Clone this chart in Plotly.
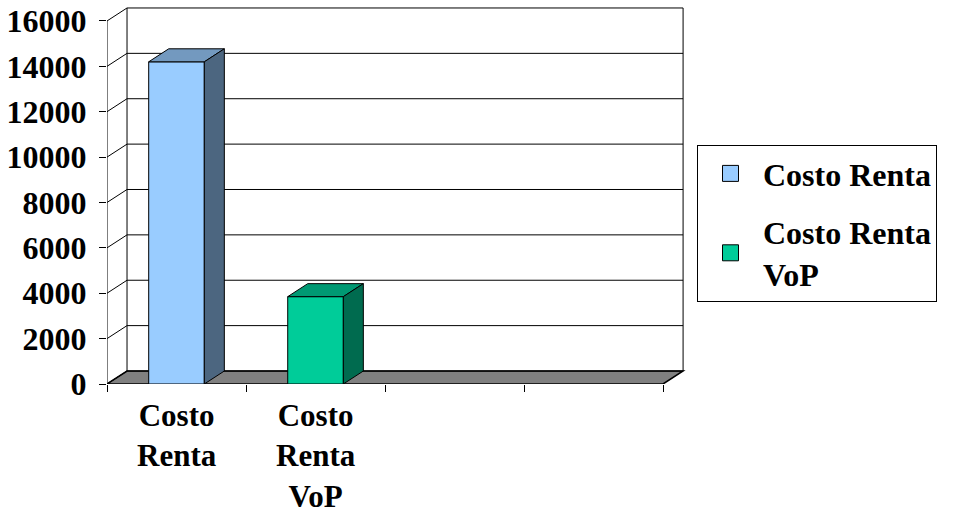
import plotly.graph_objects as go

# ── Datos ───────────────────────────────────────────────────────
categories = ["Costo<br>Renta", "Costo<br>Renta<br>VoP", "", ""]
series_names = ["Costo Renta", "Costo Renta<br>VoP"]
series_values = [14200, 3850]          # una serie por categoria
y_ticks = [0, 2000, 4000, 6000, 8000, 10000, 12000, 14000, 16000]

front_colors = ["#99ccff", "#00cc99"]
top_colors = ["#7399bf", "#009973"]
side_colors = ["#4c6680", "#006b4f"]

FONT = dict(family="Liberation Serif", size=32, color="#000000", weight="bold")

# profundidad del efecto 3D (en unidades de datos)
DX = 0.144
DY = 573
BAR_W = 0.4
x_left = -0.5
x_right = len(categories) - 0.5
y_top = y_ticks[-1]

fig = go.Figure()

# ── Barras (cara frontal + tapa + lateral) ──────────────────────
for i, (name, val) in enumerate(zip(series_names, series_values)):
    x0, x1 = i - BAR_W / 2, i + BAR_W / 2
    fig.add_trace(go.Bar(
        x=[i], y=[val], width=BAR_W, base=0,
        marker=dict(color=front_colors[i], line=dict(color="black", width=1)),
        showlegend=False, hoverinfo="skip",
    ))
    # tapa
    fig.add_trace(go.Scatter(
        x=[x0, x1, x1 + DX, x0 + DX, x0],
        y=[val, val, val + DY, val + DY, val],
        fill="toself", fillcolor=top_colors[i], mode="lines",
        line=dict(color="black", width=1), showlegend=False, hoverinfo="skip",
    ))
    # lateral
    fig.add_trace(go.Scatter(
        x=[x1, x1 + DX, x1 + DX, x1, x1],
        y=[0, DY, val + DY, val, 0],
        fill="toself", fillcolor=side_colors[i], mode="lines",
        line=dict(color="black", width=1), showlegend=False, hoverinfo="skip",
    ))
    # leyenda
    fig.add_trace(go.Scatter(
        x=[None], y=[None], mode="markers", name=name,
        legendgroup=f"g{i}",
        marker=dict(symbol="square", size=19, color=front_colors[i],
                    line=dict(color="black", width=1)),
    ))

# ── Paredes, piso y cuadricula ──────────────────────────────────
shapes = []
line_k = dict(color="black", width=1)
# piso
shapes.append(dict(
    type="path", layer="below", xref="x", yref="y",
    path=(f"M{x_left},0 L{x_right},0 L{x_right + DX},{DY} "
          f"L{x_left + DX},{DY} Z"),
    fillcolor="#808080", line=dict(color="black", width=1.5),
))
for v in y_ticks:
    # cuadricula pared trasera
    shapes.append(dict(type="line", layer="below", xref="x", yref="y",
                       x0=x_left + DX, x1=x_right + DX, y0=v + DY, y1=v + DY,
                       line=line_k))
    # pared lateral
    shapes.append(dict(type="line", layer="below", xref="x", yref="y",
                       x0=x_left, x1=x_left + DX, y0=v, y1=v + DY, line=line_k))
shapes.append(dict(type="line", layer="below", xref="x", yref="y",
                   x0=x_left + DX, x1=x_left + DX, y0=DY, y1=y_top + DY, line=line_k))
shapes.append(dict(type="line", layer="below", xref="x", yref="y",
                   x0=x_right + DX, x1=x_right + DX, y0=DY, y1=y_top + DY, line=line_k))
shapes.append(dict(type="line", layer="below", xref="x", yref="y",
                   x0=x_left, x1=x_left, y0=0, y1=y_top, line=line_k))

# etiquetas de categoria
annotations = [
    dict(x=i, y=0, xref="x", yref="paper", yanchor="top", yshift=-12,
         text=c, showarrow=False, font={**FONT, "size": 31}, align="center")
    for i, c in enumerate(categories) if c
]

fig.update_layout(
    width=958, height=514,
    paper_bgcolor="white", plot_bgcolor="white",
    margin=dict(l=107, r=272, t=6, b=130),
    barmode="overlay",
    shapes=shapes,
    annotations=annotations,
    xaxis=dict(
        range=[x_left, x_right + 0.165], showgrid=False, zeroline=False,
        showline=False, tickmode="array", automargin=False,
        tickvals=[x_left + k for k in range(len(categories) + 1)],
        ticktext=[""] * (len(categories) + 1),
        ticks="outside", ticklen=7, tickcolor="black",
    ),
    yaxis=dict(
        range=[0, 16660], showgrid=False, zeroline=False, showline=False,
        tickmode="array", tickvals=y_ticks,
        ticktext=[str(v) for v in y_ticks], automargin=False,
        ticks="outside", ticklen=7, tickcolor="black", tickfont=FONT,
        ticklabelstandoff=6,
    ),
    legend=dict(
        x=1.019, y=0.632, xanchor="left", yanchor="top",
        bordercolor="black", borderwidth=1, bgcolor="white",
        font=FONT, traceorder="grouped", tracegroupgap=14, itemwidth=55,
    ),
)

fig.write_html("out.html", config={"displayModeBar": False},
               post_script="document.body.style.margin='0';")
